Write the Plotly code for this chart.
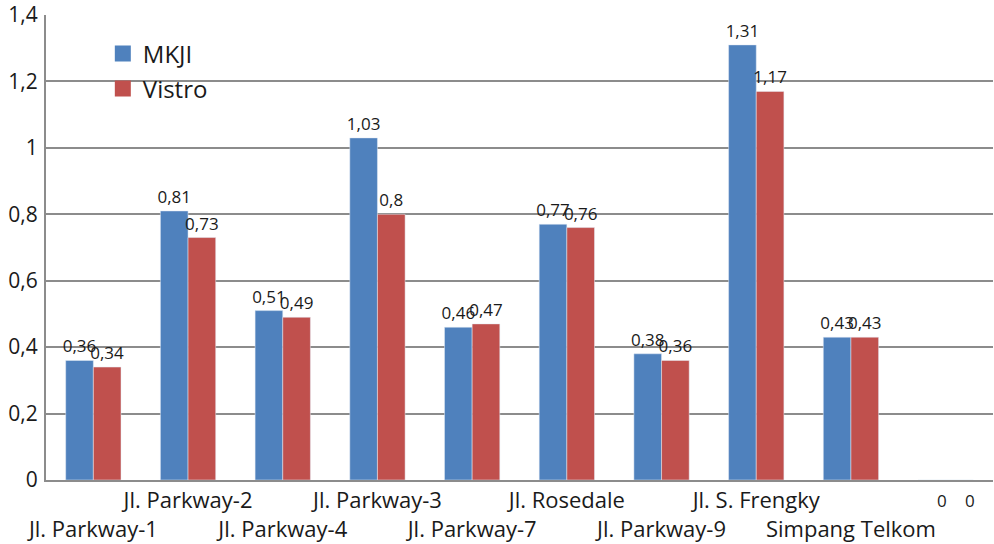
import plotly.graph_objects as go

categories = ["Jl. Parkway-1", "Jl. Parkway-2", "Jl. Parkway-4", "Jl. Parkway-3",
              "Jl. Parkway-7", "Jl. Rosedale", "Jl. Parkway-9", "Jl. S. Frengky",
              "Simpang Telkom", ""]
mkji = [0.36, 0.81, 0.51, 1.03, 0.46, 0.77, 0.38, 1.31, 0.43, 0]
vistro = [0.34, 0.73, 0.49, 0.80, 0.47, 0.76, 0.36, 1.17, 0.43, 0]
y_ticks = [0, 0.2, 0.4, 0.6, 0.8, 1.0, 1.2, 1.4]
series_names = ["MKJI", "Vistro"]

FONT = "Open Sans"
GRID = "#8c8c8c"
BLUE = "#4F81BD"
RED = "#C0504D"
TXT = "#1a1a1a"


def fmt(v):
    return ("%g" % v).replace(".", ",")


xpos = list(range(len(categories)))
mk_text = [fmt(v) if v != 0 else "" for v in mkji]
vi_text = [fmt(v) if v != 0 else "" for v in vistro]

fig = go.Figure()
for name, vals, txt, col in [(series_names[0], mkji, mk_text, BLUE),
                             (series_names[1], vistro, vi_text, RED)]:
    fig.add_trace(go.Bar(x=xpos, y=vals, name=name, marker_color=col,
                         text=txt, textposition="outside", cliponaxis=False,
                         constraintext="none", showlegend=False,
                         legendgroup=name,
                         textfont=dict(family=FONT, size=17, color=TXT)))
    # legend entry with a larger square swatch
    fig.add_trace(go.Scatter(x=[None], y=[None], mode="markers", name=name,
                             legendgroup=name, showlegend=True,
                             marker=dict(symbol="square", size=20, color=col)))

# zero labels (placed below the axis as in the original)
for i, (a, b) in enumerate(zip(mkji, vistro)):
    if a == 0:
        fig.add_annotation(x=i, y=0, text=fmt(a), showarrow=False, xshift=-4,
                           yshift=-20, font=dict(family=FONT, size=17, color=TXT))
    if b == 0:
        fig.add_annotation(x=i, y=0, text=fmt(b), showarrow=False, xshift=24,
                           yshift=-20, font=dict(family=FONT, size=17, color=TXT))

ticktext = [c if i % 2 == 1 else "<br>" + c for i, c in enumerate(categories)]

fig.update_layout(
    width=994, height=544,
    margin=dict(l=46, r=1, t=15, b=64),
    paper_bgcolor="white", plot_bgcolor="white",
    separators=",.",
    barmode="group", bargap=0.416, bargroupgap=0,
    font=dict(family=FONT, color=TXT),
    showlegend=True,
    legend=dict(x=0.06, y=0.965, xanchor="left", yanchor="top",
                font=dict(family=FONT, size=24, color=TXT),
                bgcolor="rgba(0,0,0,0)", traceorder="grouped",
                tracegroupgap=1, itemsizing="trace"),
    xaxis=dict(tickmode="array", tickvals=xpos, ticktext=ticktext,
               range=[-0.5, len(categories) - 0.5],
               showline=True, linecolor=GRID, linewidth=2,
               showgrid=False, ticks="", tickangle=0,
               tickfont=dict(family=FONT, size=22, color=TXT)),
    yaxis=dict(range=[0, 1.4], tickmode="array", tickvals=y_ticks,
               tickformat=".1~f",
               showgrid=True, gridcolor=GRID, gridwidth=2,
               showline=True, linecolor=GRID, linewidth=2,
               zeroline=False, ticks="", ticklabelstandoff=2,
               tickfont=dict(family=FONT, size=21, color=TXT)),
)

fig.write_html("out.html")
